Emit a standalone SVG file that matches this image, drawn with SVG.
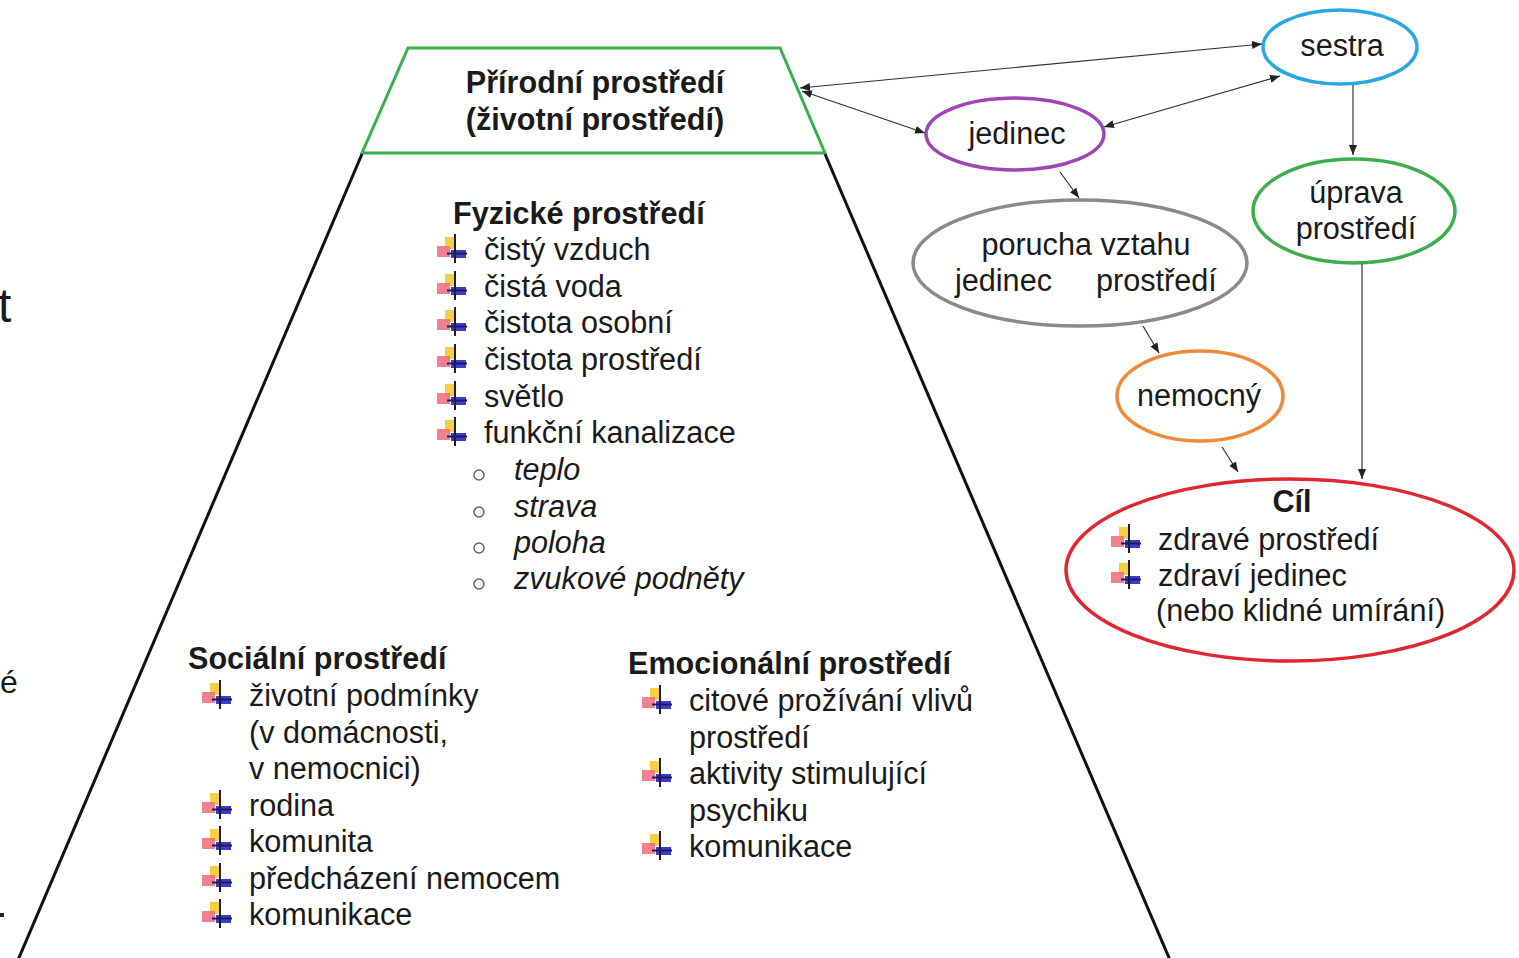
<svg xmlns="http://www.w3.org/2000/svg" xmlns:xlink="http://www.w3.org/1999/xlink" width="1519" height="958" viewBox="0 0 1519 958">
<style>
text{font-family:"Liberation Sans",Arial,sans-serif;font-size:30.6px;fill:#1a1a1a}
.b{font-weight:bold}
.i{font-style:italic}
.m{text-anchor:middle}
.c{fill:none;stroke:#333;stroke-width:1.2}
.e{fill:none;stroke-width:3.5}
.o{fill:none;stroke:#666;stroke-width:1.5}
</style>
<defs>
<marker id="ah" viewBox="0 0 10 10" refX="10" refY="5" markerWidth="10" markerHeight="10" markerUnits="userSpaceOnUse" orient="auto-start-reverse">
<path d="M0,1 L10,5 L0,9 Z" fill="#222"/>
</marker>
<g id="bu">
<rect x="-10" y="-16" width="11" height="12" fill="#f6cf45"/>
<rect x="-18" y="-7" width="13" height="11" fill="#ee6b7c" opacity="0.85"/>
<rect x="-4" y="-3" width="15" height="8" fill="#3d3ccf"/>
<line x1="0" y1="-19" x2="0" y2="10" stroke="#1c1c3a" stroke-width="2"/>
<line x1="-8" y1="0.5" x2="12" y2="0.5" stroke="#1c1c5a" stroke-width="2"/>
</g>
</defs>
<rect width="1519" height="958" fill="#fff"/>

<text x="-2" y="322" style="font-size:48px">t</text>
<text x="0" y="693" style="font-size:32px">é</text>
<rect x="0" y="913" width="4" height="4" fill="#222"/>

<g id="priroda">
<polygon points="408,48 780,48 825,153 362,153" fill="#fff" stroke="#3cae4b" stroke-width="3"/>
<text class="b m" x="595" y="93">Přírodní prostředí</text>
<text class="b m" x="595" y="130">(životní prostředí)</text>
</g>

<g id="prostredi">
<polyline points="362,154 18,960" fill="none" stroke="#111" stroke-width="3"/>
<polyline points="825,154 1170,960" fill="none" stroke="#111" stroke-width="3"/>
</g>

<g id="fyzicke">
<text class="b" x="453" y="224">Fyzické prostředí</text>
<use xlink:href="#bu" x="455" y="253"/><text x="484" y="260">čistý vzduch</text>
<use xlink:href="#bu" x="455" y="290"/><text x="484" y="297">čistá voda</text>
<use xlink:href="#bu" x="455" y="326"/><text x="484" y="333">čistota osobní</text>
<use xlink:href="#bu" x="455" y="363"/><text x="484" y="370">čistota prostředí</text>
<use xlink:href="#bu" x="455" y="400"/><text x="484" y="407">světlo</text>
<use xlink:href="#bu" x="455" y="436"/><text x="484" y="443">funkční kanalizace</text>
<circle class="o" cx="479" cy="475" r="5"/><text class="i" x="514" y="480">teplo</text>
<circle class="o" cx="479" cy="512" r="5"/><text class="i" x="514" y="517">strava</text>
<circle class="o" cx="479" cy="548" r="5"/><text class="i" x="514" y="553">poloha</text>
<circle class="o" cx="479" cy="584" r="5"/><text class="i" x="514" y="589">zvukové podněty</text>
</g>

<g id="socialni">
<text class="b" x="188" y="669">Sociální prostředí</text>
<use xlink:href="#bu" x="220" y="699"/><text x="249" y="706">životní podmínky</text>
<text x="249" y="743">(v domácnosti,</text>
<text x="249" y="779">v nemocnici)</text>
<use xlink:href="#bu" x="220" y="809"/><text x="249" y="816">rodina</text>
<use xlink:href="#bu" x="220" y="845"/><text x="249" y="852">komunita</text>
<use xlink:href="#bu" x="220" y="882"/><text x="249" y="889">předcházení nemocem</text>
<use xlink:href="#bu" x="220" y="918"/><text x="249" y="925">komunikace</text>
</g>

<g id="emocionalni">
<text class="b" x="628" y="674">Emocionální prostředí</text>
<use xlink:href="#bu" x="660" y="704"/><text x="689" y="711">citové prožívání vlivů</text>
<text x="689" y="748">prostředí</text>
<use xlink:href="#bu" x="660" y="777"/><text x="689" y="784">aktivity stimulující</text>
<text x="689" y="821">psychiku</text>
<use xlink:href="#bu" x="660" y="850"/><text x="689" y="857">komunikace</text>
</g>

<g id="sestra">
<ellipse class="e" cx="1340" cy="47" rx="77" ry="37" stroke="#2aa7e0"/>
<text class="m" x="1342" y="56">sestra</text>
</g>
<g id="jedinec">
<ellipse class="e" cx="1015" cy="134" rx="89" ry="36" stroke="#a046b4"/>
<text class="m" x="1017" y="144">jedinec</text>
</g>
<g id="uprava">
<ellipse class="e" cx="1354" cy="211" rx="101" ry="52" stroke="#3cae4b"/>
<text class="m" x="1356" y="203">úprava</text>
<text class="m" x="1356" y="239">prostředí</text>
</g>
<g id="porucha">
<ellipse class="e" cx="1080" cy="263" rx="167" ry="63" stroke="#8a8a8a"/>
<text class="m" x="1086" y="255">porucha vztahu</text>
<text x="955" y="291">jedinec</text>
<text x="1096" y="291">prostředí</text>
</g>
<g id="nemocny">
<ellipse class="e" cx="1200" cy="396" rx="83" ry="45" stroke="#f0893a"/>
<text class="m" x="1199" y="406">nemocný</text>
</g>
<g id="cil">
<ellipse class="e" cx="1290" cy="570" rx="224" ry="91" stroke="#e02630"/>
<text class="b m" x="1292" y="512">Cíl</text>
<use xlink:href="#bu" x="1129" y="543"/><text x="1158" y="550">zdravé prostředí</text>
<use xlink:href="#bu" x="1129" y="579"/><text x="1158" y="586">zdraví jedinec</text>
<text x="1156" y="621">(nebo klidné umírání)</text>
</g>

<g id="connectors">
<line class="c" x1="800" y1="88" x2="1262" y2="44" marker-start="url(#ah)" marker-end="url(#ah)"/>
<line class="c" x1="802" y1="91" x2="925" y2="133" marker-start="url(#ah)" marker-end="url(#ah)"/>
<line class="c" x1="1104" y1="127" x2="1280" y2="76" marker-start="url(#ah)" marker-end="url(#ah)"/>
<line class="c" x1="1060" y1="172" x2="1079" y2="198" marker-end="url(#ah)"/>
<line class="c" x1="1143" y1="326" x2="1159" y2="353" marker-end="url(#ah)"/>
<line class="c" x1="1353" y1="85" x2="1353" y2="155" marker-end="url(#ah)"/>
<line class="c" x1="1362" y1="264" x2="1362" y2="479" marker-end="url(#ah)"/>
<line class="c" x1="1222" y1="447" x2="1238" y2="472" marker-end="url(#ah)"/>
</g>
</svg>
